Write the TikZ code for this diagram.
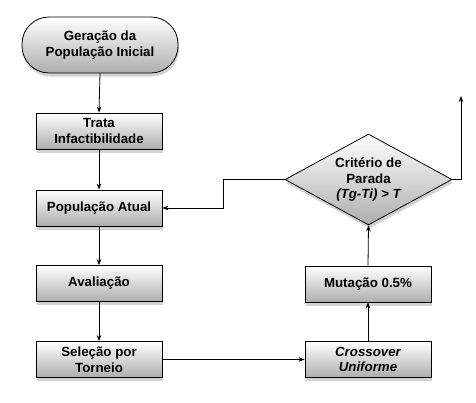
\documentclass[tikz,border=0pt]{standalone}
\usepackage{fontspec}
\setmainfont{Liberation Sans}
\usetikzlibrary{shapes.geometric,shadows,arrows.meta,positioning}
\begin{document}
\begin{tikzpicture}[x=1pt,y=-1pt,
  font=\fontsize{13.3}{15.5}\selectfont\bfseries,
  boxbase/.style={draw=black, line width=0.8pt, top color=white, bottom color=black!32,
    drop shadow={shadow xshift=1pt, shadow yshift=-3.5pt, opacity=0.35},
    align=center, inner sep=0pt},
  procbox/.style={boxbase, rectangle, minimum width=126pt, minimum height=36pt},
  termbox/.style={boxbase, rectangle, rounded corners=27pt, minimum width=156pt, minimum height=56pt},
  decbox/.style={boxbase, diamond, shape aspect=2, minimum width=167pt, minimum height=91pt},
  conn/.style={line width=0.8pt, -{Stealth[length=6pt,width=4.5pt]}}
]
\useasboundingbox (0,0) rectangle (476,402);
\node[termbox] (start) at (100,45) {Geração da\\População Inicial};
\node[procbox] (trata) at (99,131) {Trata\\Infactibilidade};
\node[procbox] (pop) at (99,208) {População Atual};
\node[procbox] (aval) at (99,283.5) {Avaliação};
\node[procbox] (sel) at (99,359.5) {Seleção por\\Torneio};
\node[procbox] (cross) at (368,359.5) {\itshape Crossover\\\itshape Uniforme};
\node[procbox] (mut) at (368,284) {Mutação 0.5\%};
\node[decbox] (crit) at (368.5,179.5) {Critério de\\Parada\\\itshape (Tg-Ti) > T};
\coordinate (fb) at (223,179.5);
\coordinate (fb2) at (223,208);
\coordinate (out1) at (461,179.5);
\coordinate (out2) at (461,96);
\draw[conn] (start.south) -- (trata.north);
\draw[conn] (trata.south) -- (pop.north);
\draw[conn] (pop.south) -- (aval.north);
\draw[conn] (aval.south) -- (sel.north);
\draw[conn] (sel.east) -- (cross.west);
\draw[conn] (cross.north) -- (mut.south);
\draw[conn] (mut.north) -- (crit.south);
\draw[conn] (crit.west) -- (fb) -- (fb2) -- (pop.east);
\draw[conn] (crit.east) -- (out1) -- (out2);
\end{tikzpicture}
\end{document}
